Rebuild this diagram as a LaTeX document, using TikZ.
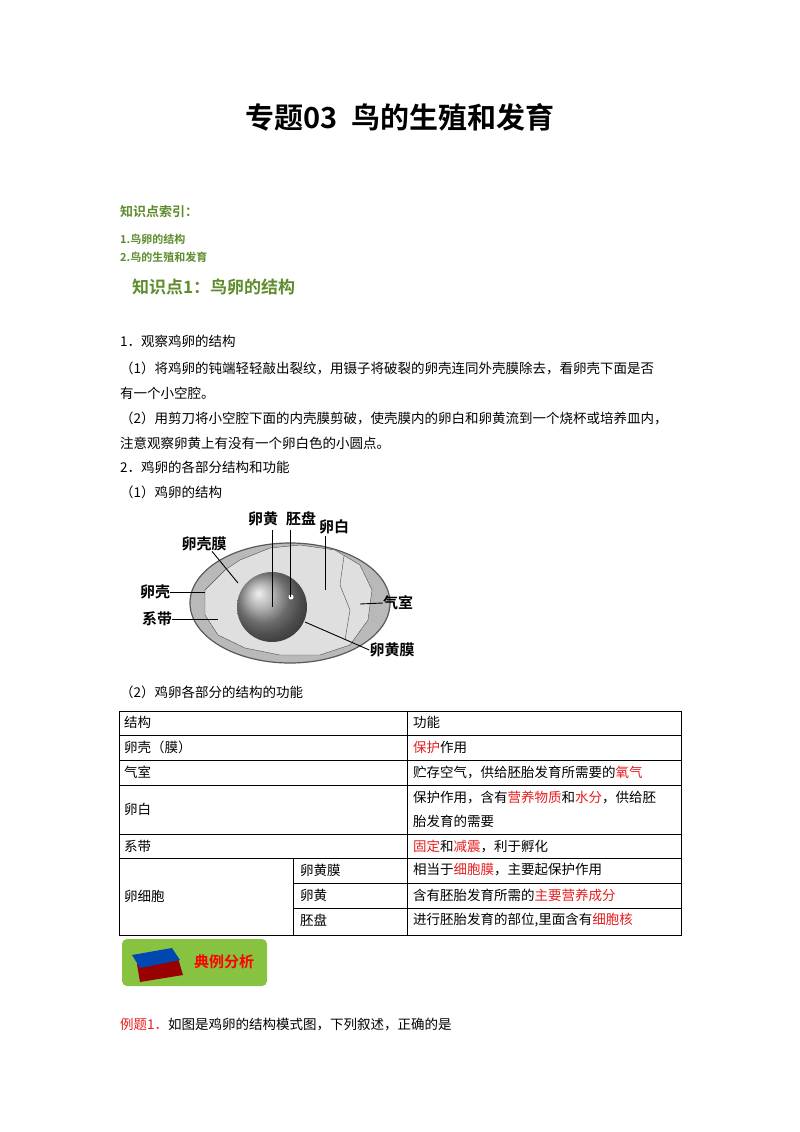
\documentclass[tikz,border=0pt]{standalone}
\usepackage{fontspec}
\setmainfont{Noto Sans CJK SC}
\newfontfamily\cjkb{Noto Sans CJK SC Bold}
\usetikzlibrary{shadings}
\definecolor{gr}{RGB}{95,140,45}
\definecolor{rd}{RGB}{230,30,30}
\definecolor{bn}{RGB}{135,195,65}
\begin{document}
\begin{tikzpicture}[x=1pt,y=-1pt,
 txt/.style={anchor=west,inner sep=0pt,font=\fontsize{13.5}{16}\selectfont},
 cell/.style={anchor=west,inner sep=0pt,font=\fontsize{13.5}{16}\selectfont},
 lab/.style={inner sep=0pt,font=\cjkb\fontsize{15}{16}\selectfont},
 ln/.style={line width=0.9pt}]
\useasboundingbox[fill=white] (0,0) rectangle (800,1132);
\node[inner sep=0pt,font=\cjkb\fontsize{29}{32}\selectfont] (title) at (400,117) {专题03\ \ 鸟的生殖和发育};
\node[txt,text=gr,font=\cjkb\fontsize{13}{15}\selectfont] (idx) at (120,212) {知识点索引：};
\node[txt,text=gr,font=\cjkb\fontsize{11}{13}\selectfont] (i1) at (120,239) {1.鸟卵的结构};
\node[txt,text=gr,font=\cjkb\fontsize{11}{13}\selectfont] (i2) at (120,257) {2.鸟的生殖和发育};
\node[txt,text=gr,font=\cjkb\fontsize{17}{20}\selectfont] (k1) at (132,287) {知识点1：鸟卵的结构};
\node[txt] (p1) at (120,341) {1．观察鸡卵的结构};
\node[txt] (p2) at (120,368) {（1）将鸡卵的钝端轻轻敲出裂纹，用镊子将破裂的卵壳连同外壳膜除去，看卵壳下面是否};
\node[txt] (p3) at (120,393) {有一个小空腔。};
\node[txt] (p4) at (120,418) {（2）用剪刀将小空腔下面的内壳膜剪破，使壳膜内的卵白和卵黄流到一个烧杯或培养皿内，};
\node[txt] (p5) at (120,443) {注意观察卵黄上有没有一个卵白色的小圆点。};
\node[txt] (p6) at (120,467) {2．鸡卵的各部分结构和功能};
\node[txt] (p7) at (120,492) {（1）鸡卵的结构};
% egg
\fill[gray!55] (290,603) ellipse (100 and 60);
\draw[gray!70!black,line width=1.2pt] (290,603) ellipse (100 and 60);
\fill[gray!25] (205,590) -- (225,570) -- (240,560) -- (270,548) -- (300,545) -- (335,550) -- (360,565) -- (372,590) -- (368,620) -- (350,645) -- (320,655) -- (280,655) -- (245,648) -- (218,635) -- (205,615) -- cycle;
\draw[gray!60!black] (205,590) -- (225,570) -- (240,560) -- (270,548) -- (300,545) -- (335,550) -- (360,565) -- (372,590) -- (368,620) -- (350,645) -- (320,655) -- (280,655) -- (245,648) -- (218,635) -- (205,615) -- cycle;
\draw[gray!60!black] (344,556) -- (340,585) -- (350,610) -- (345,640);
\shade[ball color=gray!80] (272,607) circle (35);
\fill[white] (291,597) circle (2.5);
\node[lab] (ly) at (263,519) {卵黄};
\node[lab] (lp) at (301,519) {胚盘};
\node[lab] (lw) at (334,527) {卵白};
\node[lab] (lm) at (204,544) {卵壳膜};
\node[lab] (ls) at (155,592) {卵壳};
\node[lab] (lc) at (157,619) {系带};
\node[lab] (la) at (398,603) {气室};
\node[lab] (lv) at (392,650) {卵黄膜};
\coordinate (cy) at (272,607); \coordinate (cp) at (290,597); \coordinate (cw) at (325,590);
\coordinate (cm) at (238,583); \coordinate (cs) at (205,592); \coordinate (cc) at (218,619);
\coordinate (ca) at (360,604); \coordinate (cv) at (305,622);
\draw[ln] (272,530) -- (cy); \draw[ln] (290,530) -- (cp); \draw[ln] (325,536) -- (cw);
\draw[ln] (lm.south) ++(8,0) -- (cm); \draw[ln] (ls.east) -- (cs); \draw[ln] (lc.east) -- (cc);
\draw[ln] (la.west) -- (ca); \draw[ln] (lv.west) -- (cv);
\node[txt] (p8) at (120,692) {（2）鸡卵各部分的结构的功能};
% table
\draw[line width=0.6pt] (119,711) rectangle (681,935);
\foreach \y in {735,760,785,834} \draw[line width=0.6pt] (119,\y) -- (681,\y);
\foreach \y in {883,908} \draw[line width=0.6pt] (293,\y) -- (681,\y);
\draw[line width=0.6pt] (119,858) -- (681,858);
\draw[line width=0.6pt] (407,711) -- (407,935);
\draw[line width=0.6pt] (293,858) -- (293,935);
\node[cell] (h1) at (124,722) {结构};
\node[cell] (h2) at (413,722) {功能};
\node[cell] (r1) at (124,747) {卵壳（膜）};
\node[cell] (f1) at (413,747) {\textcolor{rd}{保护}作用};
\node[cell] (r2) at (124,772) {气室};
\node[cell] (f2) at (413,772) {贮存空气，供给胚胎发育所需要的\textcolor{rd}{氧气}};
\node[cell] (r3) at (124,809) {卵白};
\node[cell] (f3) at (413,797) {保护作用，含有\textcolor{rd}{营养物质}和\textcolor{rd}{水分}，供给胚};
\node[cell] (f3b) at (413,821) {胎发育的需要};
\node[cell] (r4) at (124,846) {系带};
\node[cell] (f4) at (413,846) {\textcolor{rd}{固定}和\textcolor{rd}{减震}，利于孵化};
\node[cell] (r5) at (124,896) {卵细胞};
\node[cell] (s1) at (300,870) {卵黄膜};
\node[cell] (s2) at (300,895) {卵黄};
\node[cell] (s3) at (300,920) {胚盘};
\node[cell] (f5) at (413,870) {相当于\textcolor{rd}{细胞膜}，主要起保护作用};
\node[cell] (f6) at (413,895) {含有胚胎发育所需的\textcolor{rd}{主要营养成分}};
\node[cell] (f7) at (413,920) {进行胚胎发育的部位,里面含有\textcolor{rd}{细胞核}};
% banner
\fill[bn,rounded corners=5pt] (122,939) rectangle (267,986);
\fill[red!60!black] (137,964) -- (178,958) -- (183,975) -- (140,982) -- cycle;
\fill[blue!60!cyan!70!black] (132,955) -- (172,948) -- (180,960) -- (140,968) -- cycle;
\node[inner sep=0pt,text=red,font=\cjkb\fontsize{15}{16}\selectfont] (ban) at (224,962) {典例分析};
\node[txt] (ex) at (120,1025) {\textcolor{rd}{例题1．}如图是鸡卵的结构模式图，下列叙述，正确的是};
\end{tikzpicture}
\end{document}
